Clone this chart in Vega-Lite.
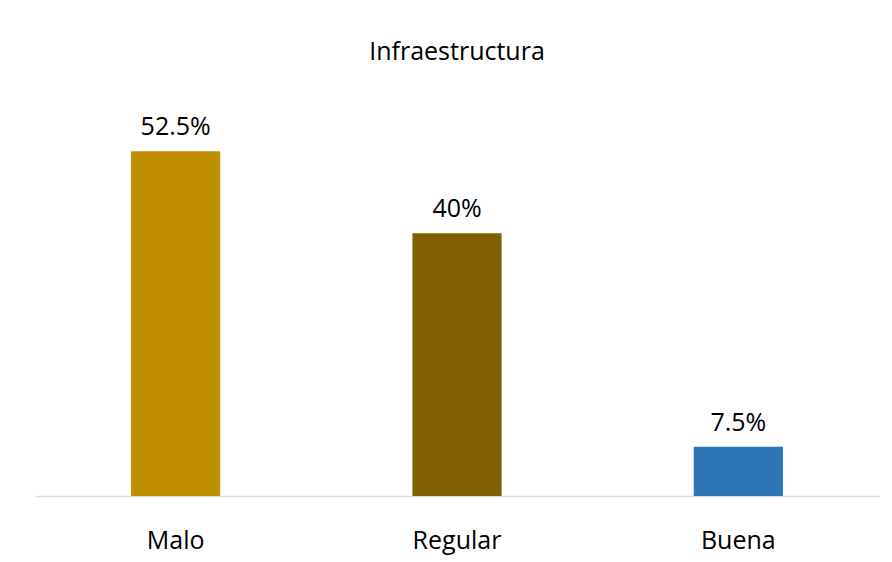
{
  "$schema": "https://vega.github.io/schema/vega-lite/v6.json",
  "width": 844,
  "height": 394,
  "autosize": {"type": "none"},
  "padding": {"left": 35, "top": 102, "right": 13, "bottom": 66},
  "background": "white",
  "config": {"view": {"stroke": null}, "font": "Open Sans"},
  "title": {
    "text": "Infraestructura",
    "fontSize": 25,
    "fontWeight": "normal",
    "color": "#000000",
    "font": "Open Sans",
    "anchor": "middle",
    "offset": 37
  },
  "data": {
    "values": [
      {"categoria": "Malo", "valor": 0.525},
      {"categoria": "Regular", "valor": 0.4},
      {"categoria": "Buena", "valor": 0.075}
    ]
  },
  "encoding": {
    "x": {
      "field": "categoria",
      "type": "nominal",
      "sort": null,
      "scale": {"paddingInner": 0.683, "paddingOuter": 0.3415},
      "axis": {
        "title": null,
        "labelAngle": 0,
        "ticks": false,
        "domainColor": "#D9D9D9",
        "domainWidth": 1.5,
        "labelFontSize": 25,
        "labelColor": "#000000",
        "labelPadding": 32,
        "labelFont": "Open Sans"
      }
    },
    "y": {
      "field": "valor",
      "type": "quantitative",
      "scale": {"domain": [0, 0.6]},
      "axis": null
    }
  },
  "layer": [
    {
      "mark": {"type": "bar"},
      "encoding": {
        "color": {
          "field": "categoria",
          "type": "nominal",
          "scale": {"domain": ["Malo", "Regular", "Buena"], "range": ["#BF8F00", "#7F6000", "#2E75B6"]},
          "legend": null
        }
      }
    },
    {
      "mark": {"type": "text", "baseline": "bottom", "dy": -11, "fontSize": 25, "color": "#000000", "font": "Open Sans"},
      "encoding": {
        "text": {"field": "valor", "type": "quantitative", "format": ".1~%"}
      }
    }
  ]
}
